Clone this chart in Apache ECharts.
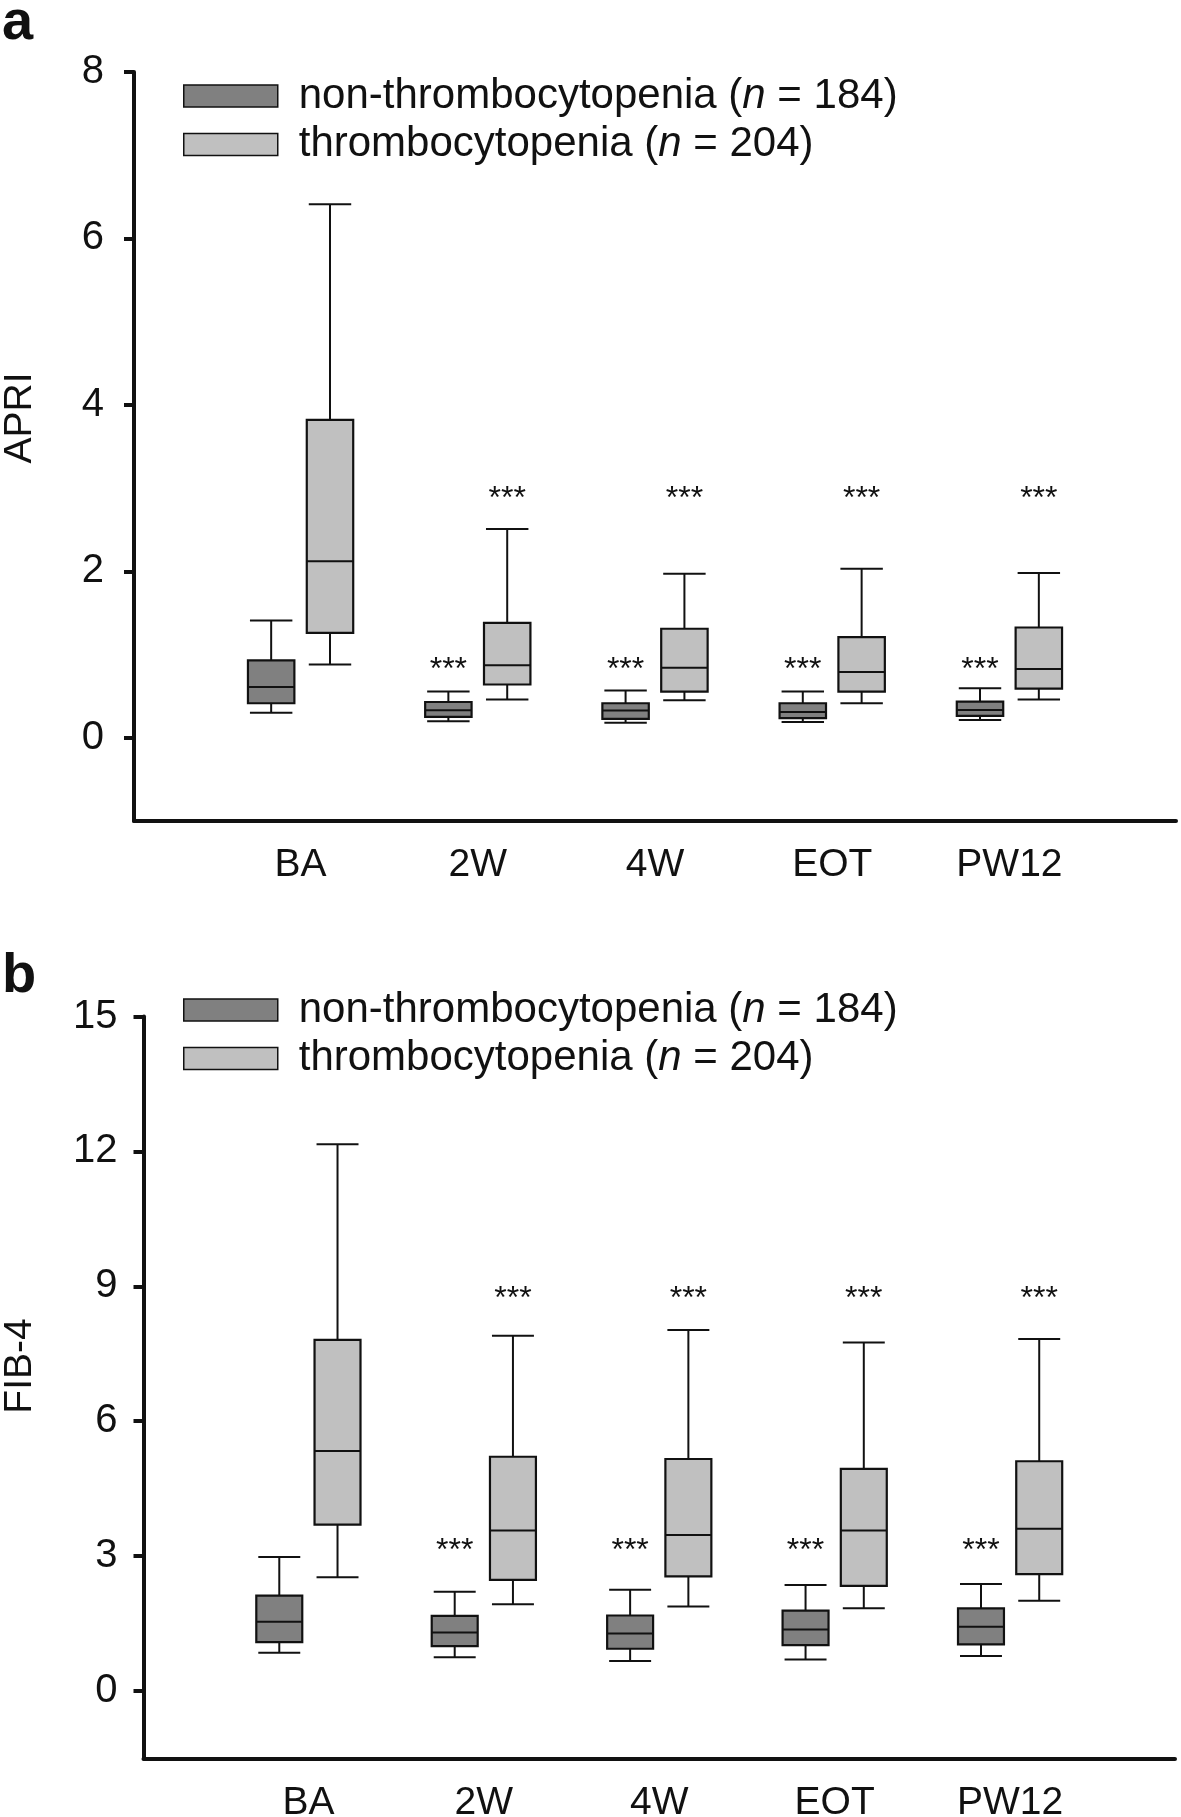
<!DOCTYPE html>
<html><head><meta charset="utf-8">
<script src="https://cdn.jsdelivr.net/npm/echarts@6/dist/echarts.min.js"></script>
<style>html,body{margin:0;padding:0;background:#fff}#c{width:1181px;height:1817px}</style>
</head><body><div id="c"></div>
<script>
// ---------- data ----------
const categories = ['BA', '2W', '4W', 'EOT', 'PW12'];
// [min, Q1, median, Q3, max]
const apriNon = [
  [0.30, 0.415, 0.61, 0.93, 1.41],
  [0.20, 0.25, 0.33, 0.43, 0.555],
  [0.18, 0.228, 0.327, 0.415, 0.567],
  [0.19, 0.235, 0.31, 0.415, 0.555],
  [0.215, 0.263, 0.335, 0.435, 0.595]
];
const apriThr = [
  [0.88, 1.26, 2.12, 3.82, 6.41],
  [0.46, 0.64, 0.87, 1.38, 2.51],
  [0.45, 0.555, 0.84, 1.31, 1.97],
  [0.415, 0.555, 0.79, 1.21, 2.03],
  [0.46, 0.59, 0.826, 1.325, 1.98]
];
const fib4Non = [
  [0.85, 1.09, 1.54, 2.12, 2.98],
  [0.75, 1.00, 1.30, 1.67, 2.21],
  [0.67, 0.94, 1.28, 1.68, 2.25],
  [0.70, 1.02, 1.37, 1.79, 2.36],
  [0.78, 1.04, 1.43, 1.84, 2.38]
];
const fib4Thr = [
  [2.53, 3.70, 5.34, 7.81, 12.16],
  [1.93, 2.47, 3.57, 5.21, 7.90],
  [1.88, 2.55, 3.47, 5.16, 8.03],
  [1.84, 2.34, 3.57, 4.94, 7.75],
  [2.01, 2.60, 3.61, 5.11, 7.83]
];
const significance = ['', '***', '***', '***', '***'];
const apriStarLevel = { non: 0.9, thr: 2.95 };
const fib4StarLevel = { non: 3.26, thr: 8.87 };
const apriTicks = [0, 2, 4, 6, 8];
const fib4Ticks = [0, 3, 6, 9, 12, 15];
const groupNames = ['non-thrombocytopenia', 'thrombocytopenia'];
const groupN = [184, 204];

// ---------- styling ----------
const FONT = '"Liberation Sans", Arial, Helvetica, sans-serif';
const INK = '#111';
const NON_FILL = '#808080';
const THR_FILL = '#c0c0c0';

function boxRenderer(offset, fill, starLevel) {
  return function (params, api) {
    const idx = api.value(0);
    const cx = api.coord([idx + offset, 0])[0];
    const half = api.size([0.131, 0])[0];
    const capHalf = half - 2;
    const y = k => api.coord([idx, api.value(k)])[1];
    const yMin = y(1), yQ1 = y(2), yMed = y(3), yQ3 = y(4), yMax = y(5);
    const ls = { stroke: INK, lineWidth: 2 };
    const children = [
      { type: 'line', shape: { x1: cx, y1: yQ3, x2: cx, y2: yMax }, style: ls },
      { type: 'line', shape: { x1: cx, y1: yQ1, x2: cx, y2: yMin }, style: ls },
      { type: 'line', shape: { x1: cx - capHalf, y1: yMax, x2: cx + capHalf, y2: yMax }, style: ls },
      { type: 'line', shape: { x1: cx - capHalf, y1: yMin, x2: cx + capHalf, y2: yMin }, style: ls },
      { type: 'rect', shape: { x: cx - half, y: yQ3, width: 2 * half, height: yQ1 - yQ3 },
        style: { fill: fill, stroke: INK, lineWidth: 2.2 } },
      { type: 'line', shape: { x1: cx - half, y1: yMed, x2: cx + half, y2: yMed }, style: ls }
    ];
    const s = significance[idx];
    if (s) {
      children.push({
        type: 'text', x: cx, y: api.coord([idx, starLevel])[1] + 7,
        style: { text: s, font: '32px ' + FONT, fill: INK, align: 'center', verticalAlign: 'middle' }
      });
    }
    return { type: 'group', children: children };
  };
}

function toData(arr) { return arr.map((d, i) => [i].concat(d)); }

function makeXAxis(gridIndex) {
  return {
    type: 'value', gridIndex: gridIndex, min: -0.94, max: 4.94,
    axisLine: { show: true, onZero: false, lineStyle: { color: INK, width: 4 } },
    axisTick: { show: false },
    splitLine: { show: false },
    axisLabel: {
      customValues: [0, 1, 2, 3, 4],
      formatter: v => categories[Math.round(v)] || '',
      fontFamily: FONT, fontSize: 39, color: INK, margin: 25
    }
  };
}
function makeYAxis(gridIndex, min, max, ticks, margin) {
  return {
    type: 'value', gridIndex: gridIndex, min: min, max: max,
    axisLine: { show: true, onZero: false, lineStyle: { color: INK, width: 4 } },
    axisTick: { show: true, customValues: ticks, length: 10, lineStyle: { color: INK, width: 4 } },
    splitLine: { show: false },
    axisLabel: { customValues: ticks, fontFamily: FONT, fontSize: 40, color: INK, margin: margin }
  };
}
function makeLegend(top) {
  return {
    orient: 'vertical', left: 183, top: top, padding: 0,
    itemWidth: 94, itemHeight: 22, itemGap: 6.5, icon: 'rect', selectedMode: false,
    data: [
      { name: groupNames[0], itemStyle: { color: NON_FILL, borderColor: INK, borderWidth: 1.5 } },
      { name: groupNames[1], itemStyle: { color: THR_FILL, borderColor: INK, borderWidth: 1.5 } }
    ],
    formatter: name => {
      const i = groupNames.indexOf(name);
      return '{t|' + name + ' (}{i|n}{t| = ' + groupN[i] + ')}';
    },
    textStyle: {
      padding: [0, 0, 0, 16],
      rich: {
        t: { fontFamily: FONT, fontSize: 42, color: INK, lineHeight: 44 },
        i: { fontFamily: FONT, fontSize: 42, color: INK, fontStyle: 'italic', lineHeight: 44 }
      }
    }
  };
}

const option = {
  backgroundColor: '#fff',
  animation: false,
  grid: [
    { left: 134, right: 5, top: 72, bottom: 996, containLabel: false, outerBoundsMode: 'none' },
    { left: 143.5, right: 6, top: 1016.5, bottom: 58.5, containLabel: false, outerBoundsMode: 'none' }
  ],
  xAxis: [makeXAxis(0), makeXAxis(1)],
  yAxis: [makeYAxis(0, -1, 8, apriTicks, 30), makeYAxis(1, -1.5, 15, fib4Ticks, 26)],
  legend: [makeLegend(75), makeLegend(989)],
  graphic: [
    { type: 'text', x: 2, y: 24, style: { text: 'a', font: 'bold 56px ' + FONT, fill: INK, align: 'left', verticalAlign: 'middle' } },
    { type: 'text', x: 2, y: 977, style: { text: 'b', font: 'bold 56px ' + FONT, fill: INK, align: 'left', verticalAlign: 'middle' } },
    { type: 'text', x: 20, y: 418, rotation: Math.PI / 2, style: { text: 'APRI', font: '39px ' + FONT, fill: INK, align: 'center', verticalAlign: 'middle' } },
    { type: 'text', x: 20, y: 1366, rotation: Math.PI / 2, style: { text: 'FIB-4', font: '39px ' + FONT, fill: INK, align: 'center', verticalAlign: 'middle' } }
  ],
  series: [
    { type: 'custom', name: groupNames[0], xAxisIndex: 0, yAxisIndex: 0, itemStyle: { color: NON_FILL },
      renderItem: boxRenderer(-0.166, NON_FILL, apriStarLevel.non), encode: { x: 0, y: [1, 2, 3, 4, 5] }, data: toData(apriNon) },
    { type: 'custom', name: groupNames[1], xAxisIndex: 0, yAxisIndex: 0, itemStyle: { color: THR_FILL },
      renderItem: boxRenderer(0.166, THR_FILL, apriStarLevel.thr), encode: { x: 0, y: [1, 2, 3, 4, 5] }, data: toData(apriThr) },
    { type: 'custom', name: groupNames[0], xAxisIndex: 1, yAxisIndex: 1, itemStyle: { color: NON_FILL },
      renderItem: boxRenderer(-0.166, NON_FILL, fib4StarLevel.non), encode: { x: 0, y: [1, 2, 3, 4, 5] }, data: toData(fib4Non) },
    { type: 'custom', name: groupNames[1], xAxisIndex: 1, yAxisIndex: 1, itemStyle: { color: THR_FILL },
      renderItem: boxRenderer(0.166, THR_FILL, fib4StarLevel.thr), encode: { x: 0, y: [1, 2, 3, 4, 5] }, data: toData(fib4Thr) }
  ]
};
const chart = echarts.init(document.getElementById('c'), null, { renderer: 'canvas' });
chart.setOption(option);
</script>
</body></html>
